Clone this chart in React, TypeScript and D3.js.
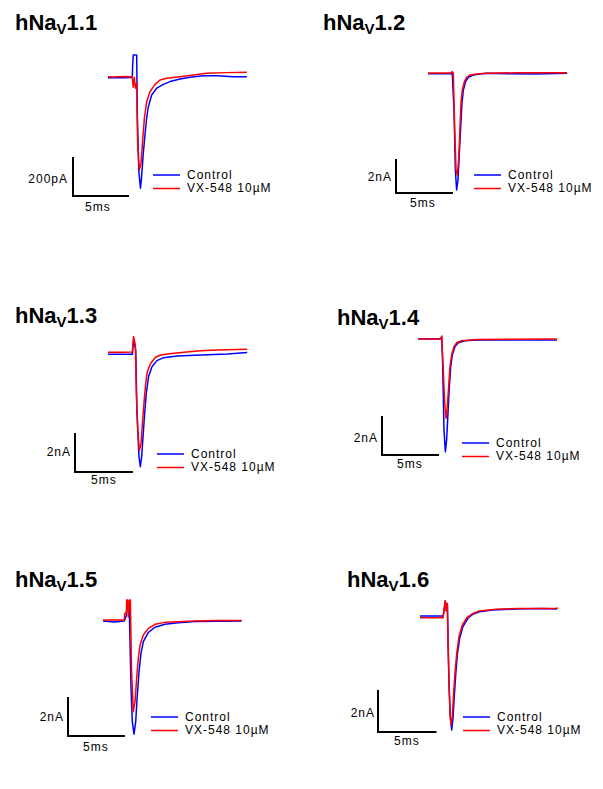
import React from 'react';
import * as d3 from 'd3';

// ---- Channel names ----
const channels = ['1.1', '1.2', '1.3', '1.4', '1.5', '1.6'];
const legendLabels = ['Control', 'VX-548 10µM'];
const yBarLabels = ['200pA', '2nA', '2nA', '2nA', '2nA', '2nA'];
const yBarValues = [200, 2, 2, 2, 2, 2];
const xBarValue = 5; // ms
const xBarLabel = '5ms';

// ---- hNaV1.1 (pA) ----
const t11Control = [0, 0.5, 1.0, 1.5, 2.0, 2.17, 2.2, 2.26, 2.56, 2.62, 2.75, 2.9, 2.99, 3.14, 3.3, 3.45, 3.6, 3.9, 4.35, 4.94, 5.54, 6.43, 7.32, 8.51, 9.7, 11.2, 12.4];
const i11Control = [-1, -1, 0, -1, 0, 0, 60, 115, 115, -200, -480, -568, -517, -397, -295, -209, -150, -90, -55, -35, -21, -8, 1, 9, 9, 4, 4];
const t11Drug = [0, 0.5, 1.0, 1.5, 2.0, 2.17, 2.25, 2.35, 2.45, 2.56, 2.65, 2.8, 2.95, 3.11, 3.25, 3.45, 3.75, 4.2, 4.64, 5.24, 6.43, 7.62, 8.81, 10.6, 12.4];
const i11Drug = [4, 3, 4, 5, 4, 4, -50, 0, -55, -30, -350, -474, -440, -312, -209, -124, -73, -35, -13, -4, 4, 13, 22, 25, 27];

// ---- hNaV1.2 (nA) ----
const t12Control = [0, 1, 2, 2.13, 2.28, 2.4, 2.51, 2.63, 2.75, 2.87, 2.98, 3.1, 3.3, 3.54, 3.98, 4.56, 5.15, 7, 9.5, 12.2];
const i12Control = [-0.05, -0.05, -0.05, -0.05, -2.18, -5.7, -6.88, -6.3, -4.7, -3.16, -1.78, -1.0, -0.51, -0.25, -0.12, -0.06, -0.02, -0.05, -0.06, -0.02];
const t12Drug = [0, 1, 2, 2.13, 2.22, 2.34, 2.46, 2.57, 2.69, 2.81, 2.89, 3.01, 3.19, 3.39, 3.68, 4.27, 5.15, 8, 12.2];
const i12Drug = [0, 0, 0, 0.08, 0, -3.16, -5.7, -6.0, -5.1, -3.16, -1.78, -1.0, -0.51, -0.25, -0.12, -0.06, -0.02, 0.02, 0.02];

// ---- hNaV1.3 (nA) ----
const t13Control = [0, 1, 2.1, 2.2, 2.39, 2.5, 2.67, 2.79, 2.9, 3.02, 3.16, 3.3, 3.5, 3.79, 4.22, 4.8, 5.95, 7.99, 10.3, 12.0];
const i13Control = [-0.07, -0.07, -0.07, 0.67, 0.15, -3.09, -5.32, -5.83, -5.32, -4.29, -3.09, -2.07, -1.21, -0.7, -0.39, -0.24, -0.15, -0.1, -0.05, 0.02];
const t13Drug = [0, 1.3, 2.1, 2.2, 2.36, 2.45, 2.57, 2.7, 2.85, 2.97, 3.1, 3.25, 3.39, 3.68, 4.1, 4.54, 5.1, 6.55, 7.99, 9.43, 12.0];
const i13Drug = [0.04, 0.04, 0.05, 0.84, 0.41, -2.24, -3.95, -5.0, -4.63, -3.6, -2.58, -1.55, -0.96, -0.53, -0.22, -0.1, -0.05, 0.04, 0.12, 0.15, 0.19];

// ---- hNaV1.4 (nA) ----
const t14Control = [0, 1, 2.0, 2.08, 2.16, 2.28, 2.4, 2.51, 2.63, 2.75, 2.87, 3.01, 3.25, 3.54, 4.12, 5.15, 8, 12.2];
const i14Control = [0, 0, 0, 0.12, -1.25, -4.67, -5.78, -5.18, -3.81, -2.45, -1.42, -0.82, -0.39, -0.19, -0.09, -0.05, -0.05, -0.05];
const t14Drug = [0, 1, 1.99, 2.08, 2.22, 2.34, 2.46, 2.57, 2.69, 2.8, 2.95, 3.16, 3.39, 3.83, 5.15, 12.2];
const i14Drug = [0, 0, 0, 0.15, -1.59, -3.3, -4.07, -3.47, -2.45, -1.42, -0.82, -0.39, -0.19, -0.09, -0.02, 0];

// ---- hNaV1.5 (nA) ----
const t15Control = [0, 1, 1.87, 2.05, 2.1, 2.3, 2.46, 2.57, 2.72, 2.87, 3.01, 3.16, 3.33, 3.54, 3.98, 4.56, 5.44, 6.61, 8.07, 12.16];
const i15Control = [0, -0.05, 0, 0.3, 0.82, 0.82, -3.45, -5.16, -5.8, -5.16, -3.79, -2.6, -1.66, -1.06, -0.58, -0.32, -0.17, -0.09, -0.03, 0];
const t15Drug = [0, 1, 1.87, 1.9, 2.05, 2.08, 2.16, 2.22, 2.31, 2.4, 2.5, 2.66, 2.81, 2.95, 3.1, 3.25, 3.54, 3.98, 4.56, 5.44, 8.07, 10, 12.16];
const i15Drug = [0.05, 0.05, 0.05, 0.39, 0.39, 1.08, 1.08, 0.2, 1.08, 1.08, -2.5, -4.65, -4.14, -2.94, -1.91, -1.23, -0.72, -0.38, -0.17, -0.07, 0, 0.03, 0.03];

// ---- hNaV1.6 (nA) ----
const t16Control = [0, 1, 1.98, 2.09, 2.18, 2.26, 2.35, 2.4, 2.49, 2.6, 2.71, 2.82, 2.94, 3.05, 3.19, 3.39, 3.67, 4.1, 4.52, 5.08, 6.21, 8.19, 10.45, 11.7];
const i16Control = [0.05, 0.05, 0.05, 0.41, 0.73, 0.33, 0.63, -1.33, -3.4, -4.83, -5.38, -4.83, -3.71, -2.76, -1.81, -1.02, -0.46, -0.06, 0.13, 0.25, 0.33, 0.38, 0.41, 0.38];
const t16Drug = [0, 1, 1.98, 2.06, 2.15, 2.23, 2.32, 2.4, 2.49, 2.57, 2.66, 2.77, 2.88, 3.0, 3.14, 3.33, 3.62, 4.01, 4.52, 5.08, 6.5, 8.47, 11.58, 11.8];
const i16Drug = [-0.03, -0.03, -0.03, 0.41, 0.79, 0.29, 0.65, -1.17, -3.24, -4.67, -5.14, -4.67, -3.56, -2.6, -1.73, -0.94, -0.38, -0.03, 0.17, 0.29, 0.37, 0.41, 0.41, 0.43];

const controlTimes = [t11Control, t12Control, t13Control, t14Control, t15Control, t16Control];
const controlCurrents = [i11Control, i12Control, i13Control, i14Control, i15Control, i16Control];
const drugTimes = [t11Drug, t12Drug, t13Drug, t14Drug, t15Drug, t16Drug];
const drugCurrents = [i11Drug, i12Drug, i13Drug, i14Drug, i15Drug, i16Drug];

// ---- Panel layout (pixels) ----
interface Layout {
  title: [number, number];
  x0: number; pxPerMs: number;
  baseY: number; pxPerUnit: number;
  corner: [number, number];
  yLabel: [number, number];
  xLabel: [number, number];
  legend: [number, number];
}
const layouts: Layout[] = [
  { title: [15, 30], x0: 108, pxPerMs: 11.2, baseY: 77.5, pxPerUnit: 0.195, corner: [73, 196], yLabel: [68, 183], xLabel: [85, 211], legend: [153, 175] },
  { title: [323, 30], x0: 428, pxPerMs: 11.4, baseY: 73, pxPerUnit: 17, corner: [396, 193], yLabel: [392, 181], xLabel: [410, 207], legend: [474, 175] },
  { title: [15, 323], x0: 108, pxPerMs: 11.6, baseY: 353, pxPerUnit: 19.5, corner: [75, 472], yLabel: [71, 456], xLabel: [91, 484], legend: [157, 454] },
  { title: [337, 325], x0: 418, pxPerMs: 11.4, baseY: 339, pxPerUnit: 19.5, corner: [382, 455], yLabel: [378, 442], xLabel: [397, 468], legend: [462, 443] },
  { title: [15, 587], x0: 103, pxPerMs: 11.4, baseY: 621, pxPerUnit: 19.5, corner: [68, 736], yLabel: [64, 721], xLabel: [83, 751], legend: [151, 717] },
  { title: [347, 587], x0: 420, pxPerMs: 11.7, baseY: 617, pxPerUnit: 21, corner: [378, 732], yLabel: [375, 717], xLabel: [394, 745], legend: [463, 717] },
];

const BLUE = '#0000ff';
const RED = '#ff0000';
const FONT = '"Liberation Sans", Arial, Helvetica, sans-serif';

function Panel({ idx }: { idx: number }) {
  const L = layouts[idx];
  const x = d3.scaleLinear().domain([0, 1]).range([L.x0, L.x0 + L.pxPerMs]);
  const y = d3.scaleLinear().domain([0, 1]).range([L.baseY, L.baseY - L.pxPerUnit]);
  const line = d3.line<[number, number]>().x((d) => x(d[0])).y((d) => y(d[1]));
  const ctrl = controlTimes[idx].map((t, i) => [t, controlCurrents[idx][i]] as [number, number]);
  const drug = drugTimes[idx].map((t, i) => [t, drugCurrents[idx][i]] as [number, number]);
  const barW = x(xBarValue) - x(0);
  const barH = y(0) - y(yBarValues[idx]);
  const [cx, cy] = L.corner;
  const [lx, ly] = L.legend;
  const rowGap = 13.5;
  return (
    <g>
      <text x={L.title[0]} y={L.title[1]} fontFamily={FONT} fontWeight="bold" fontSize={22} fill="#000">
        hNa
        <tspan fontSize={15} dy={3.5}>V</tspan>
        <tspan fontSize={22} dy={-3.5}>{channels[idx]}</tspan>
      </text>
      <path d={line(ctrl) || ''} fill="none" stroke={BLUE} strokeWidth={1.5} strokeLinejoin="round" />
      <path d={line(drug) || ''} fill="none" stroke={RED} strokeWidth={1.5} strokeLinejoin="round" />
      {/* scale bar */}
      <path d={`M${cx},${cy - barH}V${cy}H${cx + barW}`} fill="none" stroke="#000" strokeWidth={2} />
      <text x={L.yLabel[0]} y={L.yLabel[1]} textAnchor="end" fontFamily={FONT} fontSize={12} letterSpacing={1} fill="#000">
        {yBarLabels[idx]}
      </text>
      <text x={L.xLabel[0]} y={L.xLabel[1]} fontFamily={FONT} fontSize={12} letterSpacing={1} fill="#000">
        {xBarLabel}
      </text>
      {/* legend */}
      {[BLUE, RED].map((c, k) => (
        <g key={k}>
          <line x1={lx} x2={lx + 27} y1={ly + k * rowGap} y2={ly + k * rowGap} stroke={c} strokeWidth={1.5} />
          <text x={lx + 34} y={ly + k * rowGap + 3.5} fontFamily={FONT} fontSize={12} letterSpacing={1} fill="#000">
            {legendLabels[k]}
          </text>
        </g>
      ))}
    </g>
  );
}

export default function App() {
  return (
    <svg width={603} height={789} style={{ position: 'absolute', left: 0, top: 0, background: '#fff' }}>
      <rect width={603} height={789} fill="#fff" />
      {channels.map((_, i) => (
        <Panel key={i} idx={i} />
      ))}
    </svg>
  );
}
